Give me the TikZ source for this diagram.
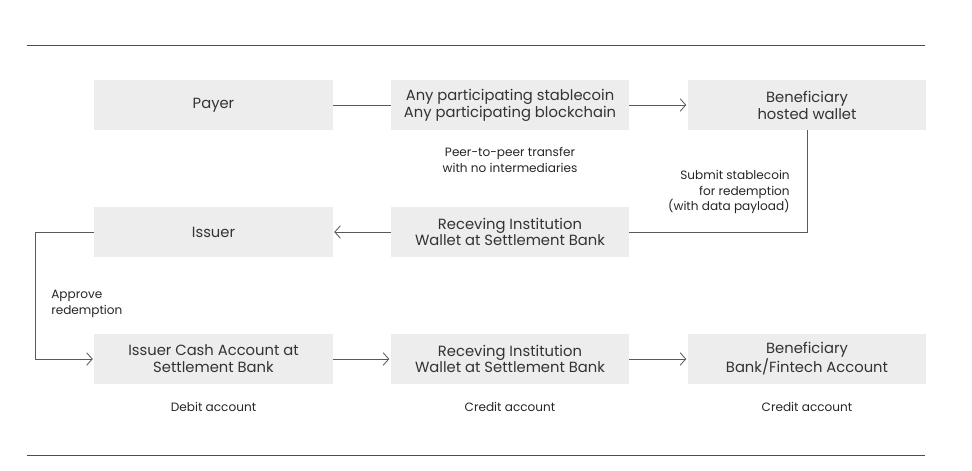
\documentclass[tikz,border=0pt]{standalone}
\usepackage{fontspec}
\setmainfont{Poppins}
\usetikzlibrary{positioning}
\usetikzlibrary{arrows.meta}

\begin{document}
\begin{tikzpicture}[x=0.025cm, y=-0.025cm,
  box/.style={fill=black!7, minimum width=5.95cm, minimum height=1.25cm, align=center, inner sep=0pt, font=\fontsize{10.5}{12}\selectfont, text=black!80},
  note/.style={align=center, inner sep=0pt, font=\fontsize{8.6}{11}\selectfont, text=black!85},
  link/.style={draw=black!65, line width=0.6pt},
  flow/.style={link, -{Straight Barb[length=4pt, width=9pt, line width=0.6pt]}, shorten >=1pt}]
  \useasboundingbox (0,0) rectangle (972,471);
  % Linien
  \draw[black!70, line width=0.6pt] (27,45) -- (925,45);
  \draw[black!70, line width=0.6pt] (27,455) -- (925,455);
  % Boxen
  \node[box] (payer) at (213.5,105) {Payer};
  \node[box] (chain) at (510,105) {Any participating stablecoin\\Any participating blockchain};
  \node[box] (wallet) at (807,105) {Beneficiary\\hosted wallet};
  \node[box] (issuer) at (213.5,232) {Issuer};
  \node[box] (recv) at (510,232) {Receving Institution\\Wallet at Settlement Bank};
  \node[box] (cash) at (213.5,359) {Issuer Cash Account at\\Settlement Bank};
  \node[box] (recv2) at (510,359) {Receving Institution\\Wallet at Settlement Bank};
  \node[box] (bank) at (807,359) {Beneficiary\\Bank/Fintech Account};
  % Texte
  \node[note] (p2p) at (510,160) {Peer-to-peer transfer\\with no intermediaries};
  \node[note, align=right, anchor=east] (submit) at (790,192) {Submit stablecoin\\for redemption\\(with data payload)};
  \node[note, align=left, anchor=west] (approve) at (51,304) {Approve\\redemption};
  \node[note] (debit) at (213.5,407) {Debit account};
  \node[note] (credit) at (510,407) {Credit account};
  \node[note] (credit2) at (807,407) {Credit account};
  % Pfeile
  \draw[link] (payer) -- (chain);
  \draw[flow] (chain) -- (wallet);
  \draw[link] (wallet.south) |- (recv.east);
  \draw[flow] (recv) -- (issuer);
  \coordinate (bend) at (35,232);
  \draw[flow] (issuer.west) -- (bend) |- (cash.west);
  \draw[flow] (cash) -- (recv2);
  \draw[flow] (recv2) -- (bank);
\end{tikzpicture}
\end{document}
